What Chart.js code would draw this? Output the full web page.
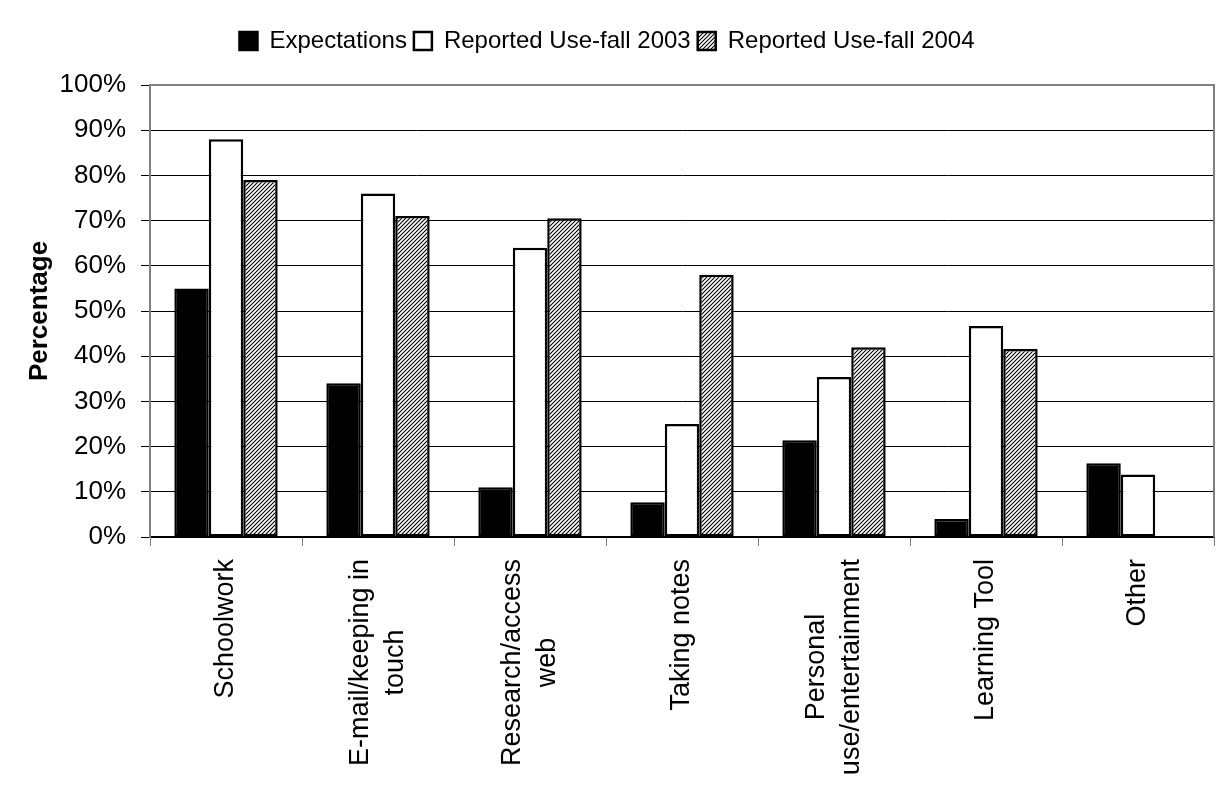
<!DOCTYPE html>
<html lang="en">

<head>
    <meta charset="UTF-8">
    <title>Expectations vs Reported Use</title>
    <script src="https://cdn.jsdelivr.net/npm/chart.js"></script>
    <style>
        body { margin: 0; background: #fff; }
    </style>
</head>

<body>
    <canvas id="useChart" width="1218" height="791"></canvas>

    <script>
        // data
        const categories = ['Schoolwork', ['E-mail/keeping in', 'touch'], ['Research/access', 'web'], 'Taking notes',
            ['Personal', 'use/entertainment'], 'Learning Tool', 'Other'];
        const seriesNames = ['Expectations', 'Reported Use-fall 2003', 'Reported Use-fall 2004'];
        const expectations = [55, 34, 11, 7.7, 21.4, 4, 16.3];
        const use2003 = [88, 76, 64, 25, 35.4, 46.7, 13.8];
        const use2004 = [79, 71, 70.5, 58, 42, 41.6, null];
        const yMin = 0, yMax = 100, yStep = 10;

        const FONT = "'Liberation Sans', Arial, sans-serif";

        // diagonal hatch for the 2004 bars
        function hatch() {
            const c = document.createElement('canvas');
            c.width = 4; c.height = 4;
            const g = c.getContext('2d');
            g.fillStyle = '#fff';
            g.fillRect(0, 0, 4, 4);
            g.strokeStyle = '#000';
            g.lineWidth = 1.1;
            g.beginPath();
            g.moveTo(-1, 5); g.lineTo(5, -1);
            g.moveTo(-1, 1); g.lineTo(1, -1);
            g.moveTo(3, 5); g.lineTo(5, 3);
            g.stroke();
            return g.createPattern(c, 'repeat');
        }

        // plot frame + rotated, centred category labels
        const framePlugin = {
            id: 'frame',
            beforeInit(chart) {
                const fit = chart.legend.fit;
                chart.legend.fit = function () { fit.call(this); this.height = 63; };
            },
            afterDatasetsDraw(chart) {
                const { ctx, chartArea: a } = chart;
                ctx.save();
                ctx.strokeStyle = '#808080';
                ctx.lineWidth = 2;
                ctx.beginPath();
                ctx.moveTo(a.left, a.top);
                ctx.lineTo(a.right, a.top);
                ctx.lineTo(a.right, a.bottom);
                ctx.stroke();
                ctx.restore();
            },
            afterDraw(chart) {
                const { ctx, chartArea: a } = chart;
                const xs = chart.scales.x;
                ctx.save();
                ctx.font = '27px ' + FONT;
                ctx.fillStyle = '#000';
                ctx.textAlign = 'center';
                ctx.textBaseline = 'middle';
                const lh = 35;
                categories.forEach((cat, i) => {
                    const lines = Array.isArray(cat) ? cat : [cat];
                    const w = Math.max(...lines.map(l => ctx.measureText(l).width));
                    const cx = xs.getPixelForTick(i);
                    lines.forEach((l, j) => {
                        ctx.save();
                        ctx.translate(cx + (j - (lines.length - 1) / 2) * lh, a.bottom + 22);
                        ctx.rotate(-Math.PI / 2);
                        ctx.fillText(l, -w / 2, 0);
                        ctx.restore();
                    });
                });
                ctx.restore();
            }
        };

        const ctx = document.getElementById('useChart').getContext('2d');
        new Chart(ctx, {
            type: 'bar',
            data: {
                labels: categories,
                datasets: [{
                    label: seriesNames[0],
                    data: expectations,
                    backgroundColor: '#000',
                    borderColor: '#000',
                    borderWidth: 2.5
                }, {
                    label: seriesNames[1],
                    data: use2003,
                    backgroundColor: '#fff',
                    borderColor: '#000',
                    borderWidth: 2.5
                }, {
                    label: seriesNames[2],
                    data: use2004,
                    backgroundColor: hatch(),
                    borderColor: '#000',
                    borderWidth: 2.5
                }]
            },
            options: {
                responsive: false,
                animation: false,
                devicePixelRatio: 1,
                layout: { padding: { top: 22, right: 4, left: 0, bottom: 0 } },
                datasets: {
                    bar: {
                        categoryPercentage: 0.68,
                        barPercentage: 1,
                        borderSkipped: false
                    }
                },
                plugins: {
                    legend: {
                        position: 'top',
                        labels: {
                            color: '#000',
                            font: { family: FONT, size: 24 },
                            boxWidth: 18,
                            boxHeight: 18,
                            padding: 7
                        }
                    },
                    tooltip: { enabled: false }
                },
                scales: {
                    x: {
                        afterFit(s) { s.height = 254; },
                        ticks: { display: false },
                        grid: {
                            drawOnChartArea: false,
                            drawTicks: true,
                            tickLength: 9,
                            color: '#808080'
                        },
                        border: { color: '#000', width: 1.5 }
                    },
                    y: {
                        min: yMin,
                        max: yMax,
                        afterFit(s) { s.width = 150; },
                        ticks: {
                            stepSize: yStep,
                            padding: 15,
                            color: '#000',
                            font: { family: FONT, size: 26 },
                            callback: v => v + '%'
                        },
                        grid: {
                            color: '#000',
                            lineWidth: 1,
                            tickLength: 9
                        },
                        border: { color: '#808080', width: 2 },
                        title: {
                            display: true,
                            text: 'Percentage',
                            color: '#000',
                            font: { family: FONT, size: 26, weight: 'bold' },
                            padding: { top: 24, bottom: 0 }
                        }
                    }
                }
            },
            plugins: [framePlugin]
        });
    </script>
</body>

</html>
